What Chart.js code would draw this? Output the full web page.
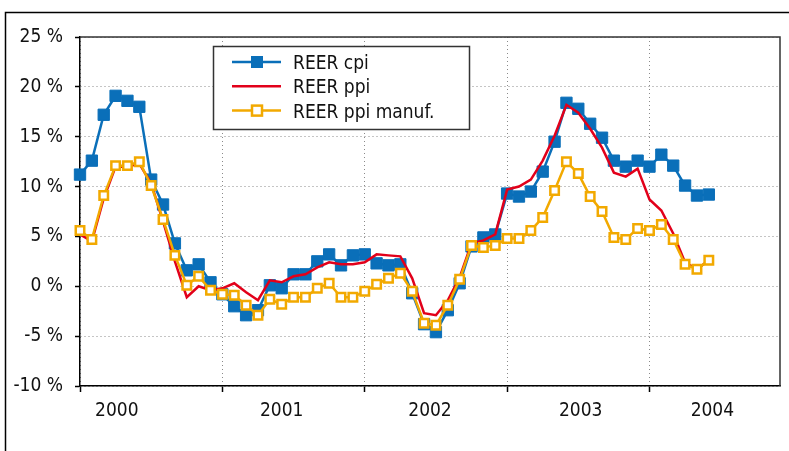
<!DOCTYPE html>
<html lang="en">
<head>
<meta charset="UTF-8">
<title>REER</title>
<script src="https://cdn.jsdelivr.net/npm/chart.js"></script>
<style>
  html, body { margin: 0; padding: 0; background: #fff; }
  canvas { display: block; }
</style>
</head>
<body>
<canvas id="chart" width="789" height="451"></canvas>
<script>
  // monthly values, Jan 2000 - Jun 2004 (%)
  const reerCpi = [11.2, 12.6, 17.2, 19.1, 18.6, 18.0, 10.7, 8.2, 4.3, 1.6,
    2.2, 0.4, -0.8, -2.0, -2.9, -2.4, 0.1, -0.2, 1.2, 1.2,
    2.5, 3.2, 2.1, 3.1, 3.2, 2.3, 2.1, 2.2, -0.7, -3.8,
    -4.6, -2.4, 0.3, 4.0, 4.9, 5.2, 9.3, 9.0, 9.5, 11.5,
    14.5, 18.4, 17.8, 16.3, 14.9, 12.6, 12.0, 12.6, 12.0, 13.2,
    12.1, 10.1, 9.1, 9.2];
  const reerPpi = [5.2, 4.5, 8.8, 12.0, 12.0, 12.3, 10.3, 6.5, 2.5, -1.1,
    0.0, -0.4, -0.2, 0.3, -0.6, -1.4, 0.6, 0.4, 1.0, 1.2,
    1.9, 2.4, 2.2, 2.2, 2.4, 3.2, 3.1, 3.0, 0.8, -2.7,
    -2.9, -1.4, 0.9, 4.3, 4.6, 5.2, 9.7, 10.0, 10.7, 12.6,
    15.1, 18.2, 17.4, 15.8, 13.9, 11.4, 11.0, 11.8, 8.7, 7.6,
    5.3, 2.4, 1.7, 2.6];
  const reerPpiManuf = [5.6, 4.7, 9.1, 12.1, 12.1, 12.5, 10.1, 6.7, 3.1, 0.1,
    1.0, -0.4, -0.8, -0.9, -1.9, -2.9, -1.3, -1.8, -1.1, -1.1,
    -0.2, 0.3, -1.1, -1.1, -0.5, 0.2, 0.8, 1.3, -0.5, -3.7,
    -3.9, -1.9, 0.7, 4.1, 3.9, 4.1, 4.8, 4.8, 5.6, 6.9,
    9.6, 12.5, 11.3, 9.0, 7.5, 4.9, 4.7, 5.8, 5.6, 6.2,
    4.7, 2.2, 1.7, 2.6];

  const seriesNames = ['REER cpi', 'REER ppi', 'REER ppi manuf.'];
  const yearLabels = ['2000', '2001', '2002', '2003', '2004'];
  const yearStarts = [0, 12, 24, 36, 48];          // month index of each January
  const yearLabelPos = [3.1, 17, 29.5, 42.2, 53.3]; // where the year names sit
  const monthMax = 59;

  const BLUE = '#0a6fb9';
  const RED = '#e2001a';
  const ORANGE = '#f2a900';
  const FONT = "'DejaVu Sans Condensed', 'Liberation Sans Narrow', sans-serif";

  Chart.defaults.font.family = FONT;
  Chart.defaults.font.size = 19;
  Chart.defaults.color = '#111';

  const toPoints = arr => arr.map((v, i) => ({ x: i, y: v }));

  // outer frame + plot top/right border
  const framePlugin = {
    id: 'frame',
    beforeDraw(chart) {
      const ctx = chart.ctx;
      ctx.save();
      ctx.fillStyle = '#fff';
      ctx.fillRect(0, 0, chart.width, chart.height);
      ctx.strokeStyle = '#000';
      ctx.lineWidth = 1.5;
      ctx.strokeRect(5.5, 12.5, chart.width + 20, chart.height + 20);
      ctx.restore();
    },
    beforeDatasetsDraw(chart) {
      const { ctx, chartArea: a } = chart;
      ctx.save();
      ctx.strokeStyle = '#333';
      ctx.lineWidth = 1.5;
      ctx.beginPath();
      ctx.moveTo(a.left, a.top);
      ctx.lineTo(a.right, a.top);
      ctx.lineTo(a.right, a.bottom);
      ctx.stroke();
      ctx.restore();
    }
  };

  // boxed legend inside the plot
  const boxLegend = {
    id: 'boxLegend',
    afterDatasetsDraw(chart) {
      const ctx = chart.ctx;
      const x0 = 213, y0 = 46, w = 256, h = 83;
      ctx.save();
      ctx.fillStyle = '#fff';
      ctx.fillRect(x0, y0, w, h);
      ctx.strokeStyle = '#333';
      ctx.lineWidth = 1.5;
      ctx.strokeRect(x0 + 0.5, y0 + 0.5, w, h);

      const items = [
        { name: seriesNames[0], color: BLUE, marker: 'filled' },
        { name: seriesNames[1], color: RED, marker: null },
        { name: seriesNames[2], color: ORANGE, marker: 'open' }
      ];
      items.forEach((it, i) => {
        const y = 62 + i * 24.3;
        ctx.strokeStyle = it.color;
        ctx.lineWidth = 2.5;
        ctx.beginPath();
        ctx.moveTo(232, y);
        ctx.lineTo(281, y);
        ctx.stroke();
        if (it.marker === 'filled') {
          ctx.fillStyle = it.color;
          ctx.fillRect(251, y - 6, 12, 12);
        } else if (it.marker === 'open') {
          ctx.fillStyle = '#fff';
          ctx.fillRect(252, y - 5, 10, 10);
          ctx.strokeStyle = it.color;
          ctx.lineWidth = 2.5;
          ctx.strokeRect(252, y - 5, 10, 10);
        }
        ctx.fillStyle = '#111';
        ctx.font = '19px ' + FONT;
        ctx.textBaseline = 'middle';
        ctx.textAlign = 'left';
        ctx.fillText(it.name, 293, y + 2);
      });
      ctx.restore();
    }
  };

  new Chart(document.getElementById('chart').getContext('2d'), {
    type: 'line',
    data: {
      datasets: [
        {
          label: seriesNames[2],
          data: toPoints(reerPpiManuf),
          borderColor: ORANGE,
          borderWidth: 2.5,
          pointStyle: 'rect',
          pointRadius: 6,
          pointBackgroundColor: '#fff',
          pointBorderColor: ORANGE,
          pointBorderWidth: 2.5,
          tension: 0,
          clip: false
        },
        {
          label: seriesNames[1],
          data: toPoints(reerPpi),
          borderColor: RED,
          borderWidth: 2.5,
          pointRadius: 0,
          tension: 0,
          clip: false
        },
        {
          label: seriesNames[0],
          data: toPoints(reerCpi),
          borderColor: BLUE,
          borderWidth: 2.5,
          pointStyle: 'rect',
          pointRadius: 8,
          pointBackgroundColor: BLUE,
          pointBorderColor: BLUE,
          pointBorderWidth: 1,
          tension: 0,
          clip: false
        }
      ]
    },
    options: {
      responsive: false,
      animation: false,
      devicePixelRatio: 1,
      layout: { padding: { left: 0, right: 3, top: 37, bottom: 0 } },
      plugins: {
        legend: { display: false },
        tooltip: { enabled: false }
      },
      scales: {
        x: {
          type: 'linear',
          min: 0,
          max: monthMax,
          weight: 0,
          afterBuildTicks: s => { s.ticks = yearStarts.map(v => ({ value: v })); },
          afterFit: s => { s.height = 6; },
          ticks: { display: false },
          grid: { color: '#8a8a8a', lineWidth: 1, tickLength: 6, tickColor: '#000', tickWidth: 1.5 },
          border: { color: '#000', width: 1.5, dash: [1, 3] }
        },
        xYears: {
          type: 'linear',
          position: 'bottom',
          min: 0,
          max: monthMax,
          weight: 1,
          afterBuildTicks: s => { s.ticks = yearLabelPos.map(v => ({ value: v })); },
          afterFit: s => { s.height = 59; },
          grid: { display: false, drawTicks: false },
          border: { display: false },
          ticks: {
            autoSkip: false,
            maxRotation: 0,
            padding: 8,
            color: '#111',
            callback: (v, i) => yearLabels[i]
          }
        },
        y: {
          min: -10,
          max: 25,
          afterFit: s => { s.width = 80; },
          ticks: {
            stepSize: 5,
            padding: 12,
            color: '#111',
            callback: v => v + ' %'
          },
          grid: { color: '#8a8a8a', lineWidth: 1, tickLength: 5, tickColor: '#000', tickWidth: 1.5 },
          border: { color: '#000', width: 1.5, dash: [1, 3] }
        }
      }
    },
    plugins: [framePlugin, boxLegend]
  });
</script>
</body>
</html>
